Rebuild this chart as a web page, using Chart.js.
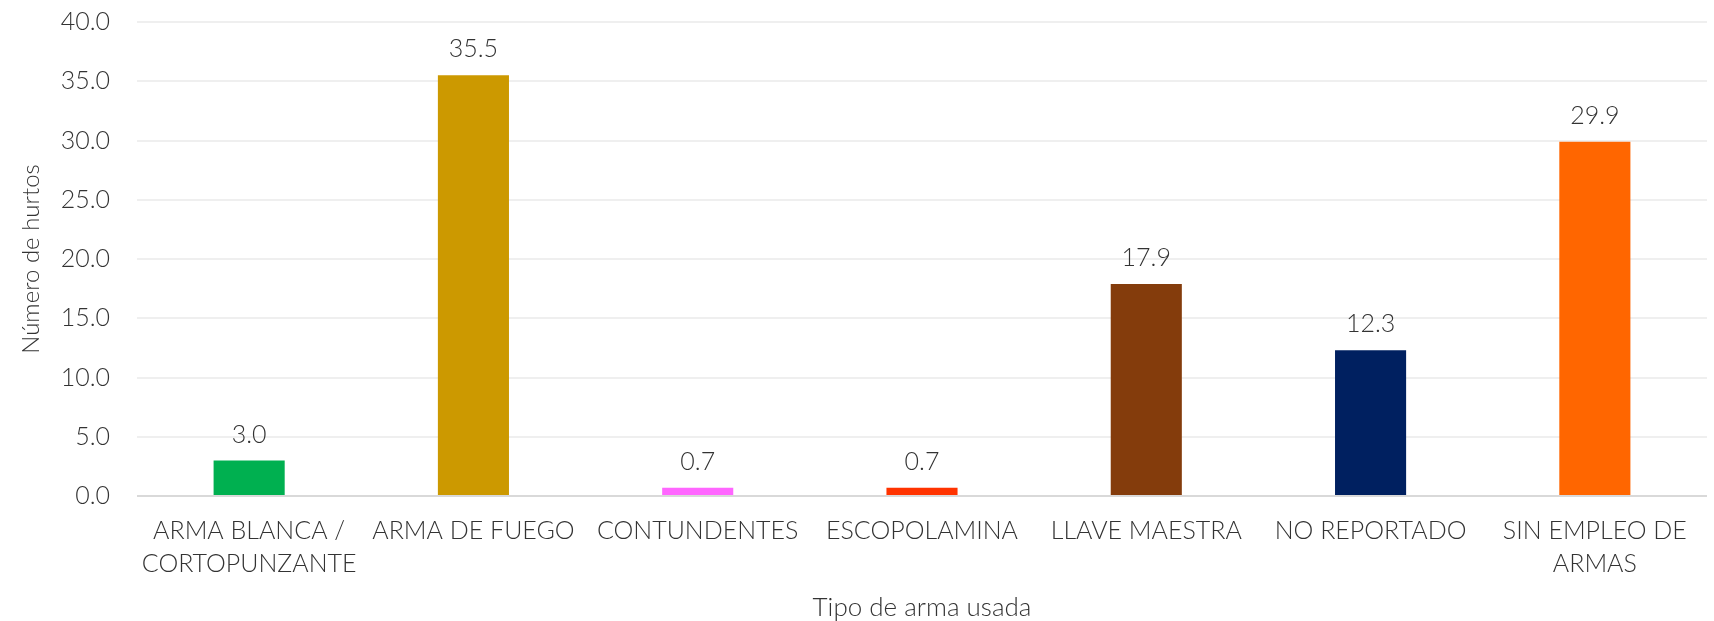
<!DOCTYPE html>
<html lang="es">
<head>
<meta charset="utf-8">
<title>Hurtos por tipo de arma</title>
<script src="https://cdn.jsdelivr.net/npm/chart.js@4.4.1/dist/chart.umd.min.js"></script>
<style>
  html, body { margin: 0; padding: 0; background: #fff; }
  #wrap { width: 1714px; height: 621px; position: relative; }
</style>
</head>
<body>
<div id="wrap"><canvas id="grafico"></canvas></div>
<script>
// Datos
const categorias = [
  ['ARMA BLANCA /', 'CORTOPUNZANTE'],
  'ARMA DE FUEGO',
  'CONTUNDENTES',
  'ESCOPOLAMINA',
  'LLAVE MAESTRA',
  'NO REPORTADO',
  ['SIN EMPLEO DE', 'ARMAS']
];
const valores = [3.0, 35.5, 0.7, 0.7, 17.9, 12.3, 29.9];
const colores = ['#00b050', '#cc9900', '#ff66ff', '#ff3300', '#843c0c', '#002060', '#ff6600'];

const fuente = 'Lato, "Noto Sans", sans-serif';
const gris = '#333333';

// Etiquetas encima de cada barra
const etiquetasValor = {
  id: 'etiquetasValor',
  afterDatasetsDraw(chart) {
    const ctx = chart.ctx;
    const meta = chart.getDatasetMeta(0);
    ctx.save();
    ctx.font = '300 25px ' + fuente;
    ctx.fillStyle = gris;
    ctx.textAlign = 'center';
    ctx.textBaseline = 'middle';
    meta.data.forEach((bar, i) => {
      ctx.fillText(valores[i].toFixed(1), bar.x, bar.y - 26);
    });
    ctx.restore();
  }
};

const ctx = document.getElementById('grafico').getContext('2d');
new Chart(ctx, {
  type: 'bar',
  data: {
    labels: categorias,
    datasets: [{
      data: valores,
      backgroundColor: colores,
      barPercentage: 0.317,
      categoryPercentage: 1
    }]
  },
  options: {
    responsive: true,
    maintainAspectRatio: false,
    animation: false,
    layout: { padding: { top: 22, right: 7, bottom: 0, left: 0 } },
    plugins: {
      legend: { display: false },
      tooltip: { enabled: false }
    },
    scales: {
      x: {
        grid: { display: false, drawTicks: false },
        border: { display: false },
        ticks: {
          color: gris,
          font: { family: fuente, size: 25, weight: 300, lineHeight: 1.3 },
          maxRotation: 0,
          autoSkip: false,
          padding: 19
        },
        title: {
          display: true,
          text: 'Tipo de arma usada',
          color: gris,
          font: { family: fuente, size: 26, weight: 300, lineHeight: 1 },
          padding: { top: 0, bottom: 0 }
        },
        // alto fijo para que el eje quede donde el original
        afterFit: s => { s.height = 125; }
      },
      y: {
        min: 0,
        max: 40,
        ticks: {
          stepSize: 5,
          color: gris,
          font: { family: fuente, size: 25, weight: 300 },
          padding: 27,
          callback: v => v.toFixed(1)
        },
        grid: {
          color: c => c.tick.value === 0 ? '#d9d9d9' : '#efefef',
          lineWidth: 2,
          drawTicks: false
        },
        border: { display: false },
        title: {
          display: true,
          text: 'Número de hurtos',
          color: gris,
          font: { family: fuente, size: 24, weight: 300, lineHeight: 1 },
          padding: { top: 19, bottom: 0 }
        },
        afterFit: s => { s.width = 137; s.paddingTop = 0; }
      }
    }
  },
  plugins: [etiquetasValor]
});
</script>
</body>
</html>
